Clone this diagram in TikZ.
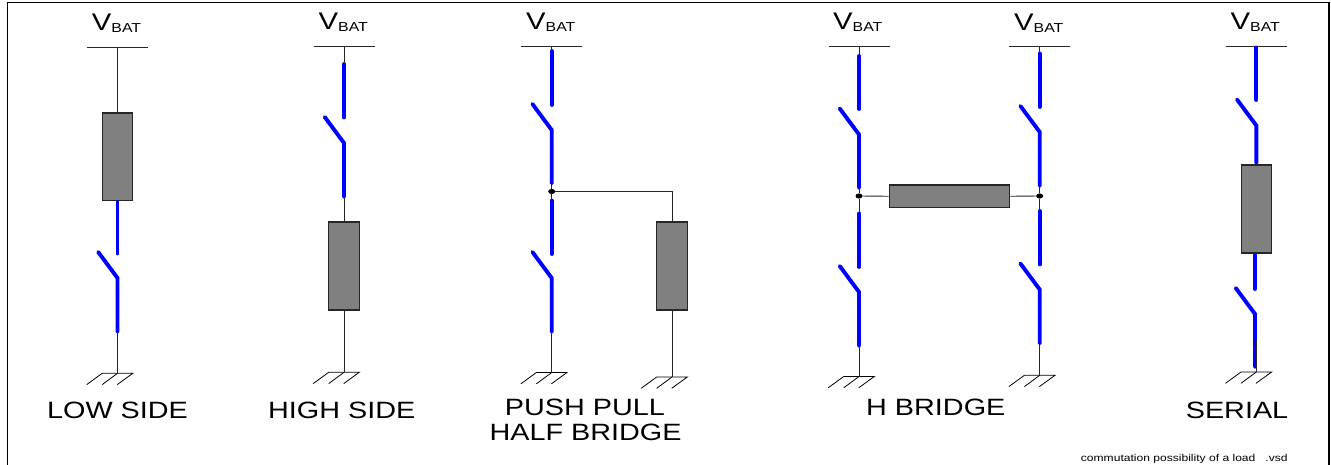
\documentclass[tikz,border=0pt]{standalone}
\usepackage{fontspec}
\setmainfont[FakeStretch=1.22]{Liberation Sans}
\usetikzlibrary{shapes.geometric}
\tikzset{
  wire/.style={draw=black!85,line width=0.9pt},
  bluewire/.style={draw=blue,line width=3.9pt,line cap=round},
  barline/.style={draw=black!85,line width=1pt},
  gnd/.style={draw=black,line width=0.8pt},
  loadbox/.style={draw=black!85,fill=black!50,line width=1.1pt,rectangle,inner sep=0pt,minimum width=#1},
  loadbox/.default=30.5pt,
  junction/.style={draw=none,fill=black,ellipse,inner sep=0pt,minimum width=7pt,minimum height=5.2pt},
  label/.style={font=\fontsize{23.6}{24}\selectfont,anchor=base,inner sep=0pt},
  vbat/.style={font=\fontsize{24}{24}\selectfont,anchor=base west,inner sep=0pt},
  note/.style={font=\fontsize{9.9}{10}\selectfont,anchor=base west,inner sep=0pt}
}
% supply bar with its VBAT text: name, x, y of bar, x of text, baseline of text
\newcommand{\supply}[5]{%
  \coordinate (#1) at (#2,#3);
  \coordinate (#1l) at (#2-30.5,#3);
  \coordinate (#1r) at (#2+30.5,#3);
  \draw[barline] (#1l) -- (#1r);
  \node[vbat] (#1t) at (#4,#5) {V\raisebox{-1.7pt}{\fontsize{13}{13}\selectfont BAT}};
}
% earth symbol: name, x, y
\newcommand{\earth}[3]{%
  \coordinate (#1) at (#2,#3);
  \coordinate (#1a) at (#2-15.3,#3);
  \coordinate (#1b) at (#2+15.3,#3);
  \coordinate (#1c) at (#2-30.8,#3+11.3);
  \coordinate (#1d) at (#2-15.3,#3+11.3);
  \coordinate (#1e) at (#2-0.3,#3+11.3);
  \draw[gnd] (#1c) -- (#1a) -- (#1b) -- (#1e);
  \draw[gnd] (#1d) -- (#1);
}
% switch: name, x, top of fixed part, foot of fixed part, pivot y, lower end y
\newcommand{\switch}[6]{%
  \coordinate (#1a) at (#2,#3);
  \coordinate (#1b) at (#2,#4);
  \coordinate (#1c) at (#2-19.3,#5-26);
  \coordinate (#1d) at (#2,#5);
  \coordinate (#1e) at (#2,#6);
  \draw[bluewire] (#1a) -- (#1b);
  \draw[bluewire,line join=miter] (#1c) -- (#1d) -- (#1e);
}
\begin{document}
\begin{tikzpicture}[x=1pt,y=-1pt]
\useasboundingbox (0,0) rectangle (1331,465);
\coordinate (f1) at (7.3,465);
\coordinate (f2) at (7.3,2.5);
\coordinate (f3) at (1329,2.5);
\coordinate (f4) at (1329,465);
\draw[black,line width=1.2pt] (f1) -- (f2) -- (f3) -- (f4);

% LOW SIDE
\supply{va}{117.5}{47.5}{91.7}{31}
\node[loadbox,minimum height=87.5pt] (la) at (117.5,156.75) {};
\switch{sa}{117.5}{202}{253.5}{278}{332}
\earth{ga}{117.5}{373.3}
\draw[wire] (va) -- (la.north);
\draw[wire] (sae) -- (ga);
\node[label] (ta) at (117.5,418) {LOW SIDE};

% HIGH SIDE
\supply{vb}{344}{46.5}{318.5}{30}
\switch{sb}{344}{64}{117.5}{143}{197}
\node[loadbox,minimum height=88pt] (lb) at (344,266) {};
\earth{gb}{344}{372.3}
\draw[wire] (vb) -- (sba);
\draw[wire] (sbe) -- (lb.north);
\draw[wire] (lb.south) -- (gb);
\node[label] (tb) at (341.7,418) {HIGH SIDE};

% PUSH PULL
\supply{vc}{551.7}{46.5}{526}{30}
\switch{sc}{551.7}{51}{105}{130}{183.5}
\switch{sd}{551.7}{200.5}{254}{278}{332}
\earth{gc}{551.7}{372.5}
\node[junction] (jc) at (551.7,191.5) {};
\node[loadbox,minimum height=88pt] (lc) at (672,266) {};
\earth{gd}{672}{377}
\coordinate (cc) at (672,191.5);
\draw[wire] (vc) -- (sca);
\draw[wire] (sce) -- (jc);
\draw[wire] (jc) -- (sda);
\draw[wire] (sde) -- (gc);
\draw[wire] (jc) -- (cc) -- (lc.north);
\draw[wire] (lc.south) -- (gd);
\node[label] (tc1) at (585,415.7) {PUSH PULL};
\node[label] (tc2) at (585.5,440.7) {HALF BRIDGE};

% H BRIDGE
\supply{vd}{859}{46.5}{833}{30}
\supply{ve}{1039.7}{47}{1014}{30.5}
\switch{se}{859}{56}{109}{134.5}{188}
\switch{sf}{859}{213.5}{267}{292}{346}
\switch{sg}{1039.7}{53.5}{107}{132}{186}
\switch{sh}{1039.7}{211}{264.5}{289.5}{343.5}
\earth{ge}{859}{376.5}
\earth{gf}{1039.7}{375.3}
\node[junction] (jd) at (859,196) {};
\node[junction] (je) at (1039.7,196) {};
\node[loadbox=120.5pt,minimum height=22.5pt] (ld) at (949.5,196.25) {};
\draw[wire] (vd) -- (sea);
\draw[wire] (see) -- (jd);
\draw[wire] (jd) -- (sfa);
\draw[wire] (sfe) -- (ge);
\draw[wire] (ve) -- (sga);
\draw[wire] (sge) -- (je);
\draw[wire] (je) -- (sha);
\draw[wire] (she) -- (gf);
\draw[wire] (jd) -- (ld.west);
\draw[wire] (ld.east) -- (je);
\node[label] (td) at (935.8,415.7) {H BRIDGE};

% SERIAL
\supply{vf}{1256.3}{46.5}{1230.5}{30}
\switch{si}{1256.3}{47.5}{100}{125.5}{163}
\node[loadbox,minimum height=88pt] (le) at (1256.3,209) {};
\switch{sj}{1255}{255}{289}{314}{367}
\earth{gg}{1256.3}{372}
\coordinate (sk) at (1256.3,340);
\draw[wire] (sk) -- (gg);
\node[label] (te) at (1237,418) {SERIAL};

\node[note] (n) at (1080.7,461) {commutation possibility of a load \ \ .vsd};
\end{tikzpicture}
\end{document}
